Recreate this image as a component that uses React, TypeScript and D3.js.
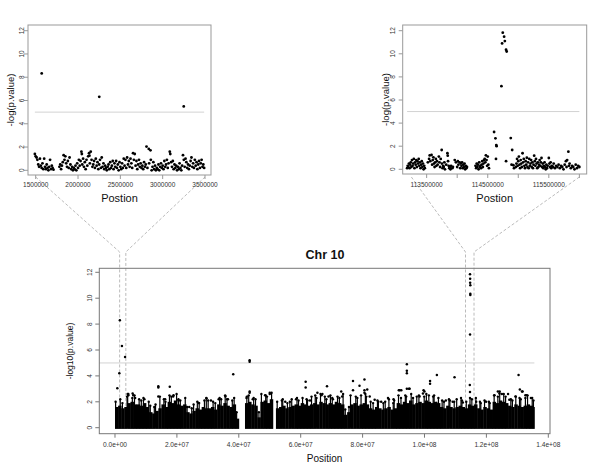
import React from "react";
import * as d3 from "d3";

type Pt = [number, number];
const FONT = "'Liberation Sans', Arial, Helvetica, sans-serif";

// ---------- data (positions in Mb, values = -log10 p) ----------
const leftZoomPoints: Pt[] = [
  [1.49,1.4],[1.50,1.2],[1.51,1.1],[1.52,0.9],[1.53,0.5],[1.54,0.3],[1.55,1.0],[1.56,0.4],[1.571,8.33],[1.57,0.2],[1.58,0.6],[1.59,0.1],
  [1.60,1.0],[1.61,0.3],[1.62,0.1],[1.63,0.5],[1.64,0.2],[1.65,0.0],[1.66,0.3],[1.67,0.9],[1.68,0.1],[1.69,0.4],[1.70,0.2],[1.71,0.05],
  [1.78,0.3],[1.79,0.5],[1.80,0.1],[1.81,0.4],[1.82,0.7],[1.83,1.3],[1.84,0.9],[1.85,1.2],[1.86,0.6],[1.87,0.3],[1.88,0.8],[1.89,0.2],[1.90,1.1],[1.91,0.5],[1.92,0.1],
  [1.93,0.3],[1.94,0.0],[1.95,0.2],[1.96,0.1],[1.97,0.4],[1.98,0.0],[1.99,0.6],[2.00,0.2],[2.01,0.9],[2.02,0.4],
  [2.03,0.8],[2.04,1.6],[2.045,1.4],[2.05,0.5],[2.06,1.0],[2.07,0.3],[2.08,0.7],[2.09,0.1],[2.10,0.9],[2.11,0.4],[2.12,1.2],[2.13,1.47],[2.135,1.26],[2.14,0.6],[2.15,1.6],
  [2.16,0.9],[2.17,0.3],[2.18,0.5],[2.19,0.8],[2.20,0.2],[2.21,1.0],[2.22,0.4],[2.23,0.7],[2.24,0.1],[2.251,6.32],[2.25,0.5],[2.26,0.9],[2.27,0.2],[2.28,1.1],[2.29,0.3],[2.30,0.6],
  [2.31,0.1],[2.32,0.4],[2.33,0.2],[2.34,0.0],[2.35,0.3],[2.36,0.5],[2.37,0.1],[2.38,0.7],[2.39,0.2],[2.40,0.4],[2.41,0.8],[2.42,0.1],[2.43,0.6],[2.44,0.3],[2.45,0.8],
  [2.46,0.2],[2.47,0.5],[2.48,0.0],[2.49,0.7],[2.50,0.3],[2.51,0.1],[2.52,0.6],[2.53,0.2],[2.54,1.0],[2.55,0.4],[2.56,0.9],[2.57,0.2],[2.58,1.1],[2.59,0.5],[2.60,0.8],
  [2.61,0.3],[2.62,1.0],[2.63,0.6],[2.64,0.2],[2.65,1.47],[2.66,0.9],[2.67,1.4],[2.68,0.4],[2.69,0.8],[2.70,0.1],[2.71,0.5],[2.72,0.9],[2.73,0.3],[2.74,0.6],[2.75,0.2],
  [2.76,0.4],[2.77,0.1],[2.78,0.7],[2.79,0.3],[2.80,0.5],[2.809,2.04],[2.82,0.2],[2.836,1.84],[2.84,0.6],[2.856,1.72],[2.86,0.9],[2.87,0.0],[2.88,0.3],[2.89,0.7],[2.90,0.1],
  [2.91,0.4],[2.92,0.0],[2.93,0.2],[2.94,0.1],[2.95,0.5],[2.96,0.0],[2.97,0.3],[2.98,0.6],[2.99,0.2],[3.00,0.4],[3.01,0.1],[3.02,0.8],[3.03,0.3],[3.04,0.5],[3.05,0.9],
  [3.06,0.2],[3.07,0.6],[3.084,1.6],[3.09,1.4],[3.10,0.7],[3.11,0.3],[3.12,0.8],[3.13,0.1],[3.14,0.5],[3.15,0.2],[3.16,0.4],[3.17,0.0],[3.18,0.3],[3.19,0.1],[3.20,0.6],
  [3.21,0.2],[3.22,0.0],[3.23,0.4],[3.24,1.3],[3.249,5.49],[3.25,0.9],[3.26,0.3],[3.27,1.0],[3.28,0.7],[3.29,0.2],[3.30,0.5],[3.31,0.1],[3.32,0.4],[3.33,0.8],[3.34,1.1],[3.35,0.3],
  [3.36,0.6],[3.37,0.2],[3.38,0.9],[3.39,0.4],[3.40,0.7],[3.41,0.1],[3.42,0.5],[3.43,0.8],[3.44,0.2],[3.45,0.6],[3.46,0.9],[3.47,0.3],[3.48,0.5],[3.49,0.2],
];

const rightZoomPoints: Pt[] = [
  [113.18,0.1],[113.19,0.3],[113.20,0.2],[113.21,0.5],[113.22,0.1],[113.23,0.4],[113.24,0.6],[113.25,0.2],[113.26,0.8],[113.27,0.3],[113.28,0.5],[113.29,0.9],[113.30,0.1],[113.31,0.6],[113.32,0.4],
  [113.33,0.8],[113.34,0.2],[113.35,0.7],[113.36,0.5],[113.37,0.9],[113.38,0.3],[113.39,0.6],[113.40,0.1],[113.41,0.4],[113.42,0.7],[113.43,0.2],[113.44,0.5],[113.45,0.0],[113.46,0.3],[113.47,0.1],
  [113.52,0.6],[113.54,0.9],[113.55,1.2],[113.56,0.7],[113.58,1.24],[113.59,0.4],[113.60,0.8],[113.61,1.04],[113.62,0.5],[113.63,0.2],[113.64,0.6],[113.65,0.9],[113.66,0.3],[113.67,0.7],[113.68,0.4],
  [113.70,1.1],[113.71,0.6],[113.72,0.2],[113.73,0.9],[113.746,1.67],[113.75,0.5],[113.76,0.1],[113.77,0.3],[113.78,0.2],[113.79,0.6],[113.80,0.0],[113.82,0.4],[113.84,1.39],[113.845,1.18],
  [113.85,0.7],[113.86,0.3],[113.87,0.1],[113.88,0.2],[113.89,0.0],[113.90,0.3],[113.92,0.1],[113.93,0.2],
  [113.96,0.8],[113.98,0.6],[114.00,0.2],[114.01,0.7],[114.02,0.4],[114.04,0.6],[114.05,0.1],[114.06,0.5],[114.07,0.3],[114.08,0.6],[114.09,0.1],[114.10,0.4],[114.11,0.2],[114.12,0.5],[114.13,0.0],[114.14,0.3],[114.15,0.1],[114.16,0.2],
  [114.30,0.3],[114.31,0.1],[114.32,0.5],[114.33,0.2],[114.34,0.4],[114.35,0.0],[114.36,0.6],[114.37,0.2],[114.38,0.3],[114.39,0.1],[114.40,0.4],[114.41,0.7],[114.42,0.2],[114.43,0.5],[114.44,0.8],
  [114.45,0.9],[114.46,0.6],[114.47,1.21],[114.48,0.8],[114.49,0.3],[114.50,1.1],[114.51,0.4],[114.52,0.1],
  [114.604,3.23],[114.626,2.68],[114.64,2.1],[114.645,2.0],[114.635,0.9],[114.735,10.9],[114.746,11.83],[114.724,7.2],[114.768,11.48],[114.78,11.1],[114.80,10.35],[114.81,10.2],[114.80,0.7],
  [114.877,2.7],[114.90,1.67],[114.89,0.4],[114.92,0.35],[114.93,0.1],
  [114.96,0.2],[114.97,0.5],[114.98,0.9],[114.99,0.3],[115.00,0.7],[115.01,1.1],[115.02,0.4],[115.03,0.1],[115.04,0.8],[115.05,0.5],[115.06,0.2],[115.07,1.39],[115.08,0.6],[115.09,0.9],[115.10,0.3],
  [115.11,0.1],[115.12,0.7],[115.13,0.4],[115.14,1.0],[115.15,0.2],[115.16,0.6],[115.17,0.1],[115.18,0.9],[115.19,0.3],[115.20,0.5],[115.21,0.8],[115.22,0.2],[115.23,0.6],[115.24,0.1],[115.25,0.4],
  [115.26,1.18],[115.27,0.7],[115.28,0.3],[115.29,0.9],[115.30,0.5],[115.31,0.1],[115.32,0.6],[115.33,0.2],[115.34,0.4],[115.35,0.8],[115.36,0.3],[115.37,0.6],[115.38,0.98],[115.39,0.2],[115.40,0.5],
  [115.41,0.1],[115.42,0.3],[115.43,0.6],[115.44,0.2],[115.45,0.0],[115.46,0.4],[115.47,0.1],[115.48,0.3],[115.50,0.98],[115.51,0.5],[115.52,0.2],[115.53,0.6],[115.54,0.1],[115.55,0.3],[115.57,0.2],
  [115.58,0.5],[115.60,0.1],[115.62,0.3],[115.64,0.2],[115.66,0.4],[115.68,0.1],[115.70,0.3],[115.72,0.2],[115.74,0.0],[115.76,0.4],[115.78,0.7],[115.79,0.2],[115.80,0.8],[115.82,1.53],[115.83,0.3],
  [115.84,0.5],[115.86,0.1],[115.88,0.3],[115.90,0.2],[115.92,0.0],[115.94,0.4],[115.96,0.1],[115.98,0.3],[116.00,0.2],
];

// dense band of the whole chromosome: solid upper edge per 1-Mb bin (index = Mb)
const chrBandTop: number[] = [
  1.6,1.7,1.5,1.6,1.9,2.0,1.8,1.8,1.7,1.9,1.6,1.2,1.1,1.3,1.5,1.8,1.6,2.0,1.9,2.1,
  1.8,1.7,1.8,1.2,1.1,1.3,1.5,1.4,1.6,1.5,1.5,1.6,1.4,1.8,1.7,1.9,1.7,1.6,1.8,0.7,
  0,0,1.9,2.0,1.8,1.7,0.8,2.0,2.1,1.9,2.2,0,1.5,1.6,1.7,1.5,1.6,1.7,1.8,1.7,
  1.9,1.8,1.7,1.8,1.9,1.8,2.0,1.9,1.8,1.9,1.8,2.0,1.9,1.8,1.0,1.2,1.8,1.9,1.7,1.8,
  1.9,1.8,1.5,1.4,1.6,1.5,1.4,1.5,1.6,1.4,1.5,1.9,1.8,2.0,1.9,2.1,1.8,1.9,2.0,1.9,
  2.1,2.0,1.9,2.0,1.9,1.6,1.5,1.7,1.6,1.5,1.6,1.7,1.6,1.5,1.8,1.7,1.8,1.5,1.4,1.6,
  1.5,1.4,2.0,1.9,2.1,2.0,1.9,1.7,1.6,1.8,1.7,1.6,1.7,1.8,1.7,1.6,
];
// thin streak of stacked points rising above the solid band in each bin
const chrBandPeak: number[] = [
  2.0,2.2,1.9,2.4,2.6,2.3,2.5,2.2,2.1,2.3,2.0,1.7,1.6,1.8,2.4,2.2,2.0,2.5,2.4,2.6,
  2.2,2.1,2.3,1.6,1.5,1.8,2.0,1.9,2.1,2.3,2.1,2.0,1.9,2.3,2.2,2.5,2.2,2.1,2.3,1.2,
  0,0,2.4,2.5,2.3,2.2,1.2,2.6,2.5,2.4,2.7,0,2.0,2.1,2.2,1.9,2.0,2.2,2.3,2.1,
  2.3,2.2,2.1,2.4,2.5,2.3,2.6,2.4,2.2,2.5,2.3,2.4,2.3,2.6,1.4,1.6,2.5,2.4,2.3,2.5,
  2.6,2.4,2.0,1.9,2.1,2.0,1.9,2.0,2.2,1.9,2.1,2.5,2.3,2.5,2.4,2.6,2.3,2.4,2.5,2.4,
  2.6,2.5,2.4,2.5,2.3,2.1,2.0,2.2,2.1,2.0,2.2,2.3,2.1,2.0,2.3,2.2,2.3,2.0,1.9,2.1,
  2.0,1.9,2.5,2.4,2.8,2.6,2.4,2.2,2.1,2.4,2.3,2.2,2.3,2.5,2.3,2.1,
];
// where that streak sits inside its bin (Mb from bin start)
const chrPeakOffset: number[] = [
  0.2,0.7,0.4,0.9,0.1,0.6,0.3,0.8,0.5,0.2,0.9,0.4,0.7,0.1,0.5,0.8,0.3,0.6,0.2,0.9,
  0.5,0.1,0.7,0.3,0.8,0.4,0.6,0.2,0.9,0.5,0.1,0.7,0.4,0.8,0.3,0.6,0.2,0.9,0.5,0.3,
  0.5,0.5,0.6,0.2,0.8,0.4,0.5,0.3,0.7,0.1,0.6,0.5,0.4,0.9,0.2,0.7,0.5,0.1,0.8,0.3,
  0.6,0.9,0.2,0.5,0.7,0.1,0.4,0.8,0.3,0.6,0.2,0.9,0.5,0.7,0.4,0.6,0.1,0.8,0.3,0.5,
  0.9,0.2,0.6,0.4,0.8,0.1,0.7,0.3,0.5,0.9,0.2,0.6,0.4,0.8,0.1,0.7,0.3,0.5,0.2,0.9,
  0.6,0.4,0.8,0.1,0.5,0.7,0.3,0.9,0.2,0.6,0.4,0.8,0.1,0.5,0.7,0.3,0.6,0.9,0.2,0.4,
  0.8,0.1,0.5,0.7,0.3,0.6,0.2,0.9,0.4,0.5,0.7,0.1,0.6,0.3,0.8,0.2,
];
const chrEnd = 135.5;

const chrPoints: Pt[] = [
  [0.75,3.04],[1.4,4.2],[1.57,8.3],[2.25,6.3],[3.25,5.45],[4.3,2.5],[4.3,2.6],[5.7,2.65],[5.9,2.5],[14,3.2],[14,3.1],[14,2.4],
  [17.7,3.17],[18.8,2.4],[18.9,2.5],[29.6,2.26],[31,2.1],[35.7,2.4],[36.5,2.2],[38.2,4.12],[43.5,5.2],[43.5,5.1],[43.5,2.8],
  [43.5,2.7],[50,2.7],[50,2.6],[61.6,3.55],[61.6,3.1],[65.4,2.7],[67,2.6],[68.5,3.2],[69,2.4],[76.9,3.6],[76.9,2.9],[79,3.24],
  [80.6,3.73],[80.6,2.9],[80.6,2.7],[81.5,2.95],[92,2.9],[92.5,2.9],[94.3,4.9],[94.3,4.4],[94.3,4.2],[94.3,3.0],[95,3.0],
  [99.7,2.9],[101.8,3.6],[101.8,3.4],[104,4.07],[109.7,3.9],[114.7,11.84],[114.75,11.5],[114.75,11.2],[114.8,11.0],
  [114.8,10.35],[114.8,10.25],[114.72,7.2],[114.65,3.3],[114.7,2.75],[130.4,4.07],[130.8,2.95],[131.5,2.8],[125,2.6],
  [127,2.6],[133,2.5],[66.7,2.5],[70.4,2.2],[73.1,2.8],[73.4,2.4],[82.3,2.4],[83.9,2.15],[86,2.0],[88.2,2.3],[90,2.2],
  [91.7,2.9],[95.2,3.0],[98.4,2.4],[99.5,2.65],[100,2.8],[103.8,1.9],[106.9,2.1],[109.1,2.0],[112.4,1.95],[116.7,2.0],
  [119.9,2.0],[122.6,2.5],[123.7,2.8],[124.2,2.65],[127.4,2.15],[129.4,2.4],[131.7,2.8],[132.6,2.5],[134.4,2.3],
  [6.5,2.3],[9.5,2.2],[16.2,2.2],[20.5,2.1],[24,1.6],[27,1.9],[33.5,2.2],[42.5,2.3],[44.5,2.2],[48.5,2.5],[55,2.0],[58.5,2.2],[63,2.1],
];

const yTicks = [0, 2, 4, 6, 8, 10, 12];
const leftTicks = [1.5, 2.0, 2.5, 3.0, 3.5];
const leftTickLabels = ["1500000", "2000000", "2500000", "3000000", "3500000"];
const rightTicks = [113.5, 114.0, 114.5, 115.0, 115.5, 116.0];
const rightTickLabels = ["113500000", "", "114500000", "", "115500000", ""];
const chrTicks = [0, 20, 40, 60, 80, 100, 120, 140];
const chrTickLabels = ["0.0e+00", "2.0e+07", "4.0e+07", "6.0e+07", "8.0e+07", "1.0e+08", "1.2e+08", "1.4e+08"];
const threshold = 5;
const leftRegion: [number, number] = [1.5, 3.5];
const rightRegion: [number, number] = [113.25, 116.0];

// ---------- scales ----------
const xL = d3.scaleLinear().domain([1.409, 3.571]).range([28, 211]);
const yL = d3.scaleLinear().domain([0, 12]).range([170.3, 30.7]);
const xR = d3.scaleLinear().domain([113.108, 116.12]).range([402.7, 586.7]);
const yR = d3.scaleLinear().domain([0, 12]).range([169.3, 30.7]);
const xB = d3.scaleLinear().domain([-5.07, 140.55]).range([99.3, 550]);
const yB = d3.scaleLinear().domain([0, 12]).range([427.7, 272.3]);

type PanelProps = {
  x: d3.ScaleLinear<number, number>;
  y: d3.ScaleLinear<number, number>;
  box: [number, number, number, number];
  xTicks: number[];
  xLabels: string[];
  tickFont: number;
  boxColor: string;
  yLabel: string;
  yLabelX: number;
  yLabelSize: number;
  yTickLabelX: number;
  xLabelY: number;
  xTitle: string;
  xTitleY: number;
  xTitleSize: number;
};

function Frame(p: PanelProps) {
  const [x0, y0, x1, y1] = p.box;
  const yMid = (y0 + y1) / 2;
  const xMid = (x0 + x1) / 2;
  return (
    <g fontFamily={FONT}>
      <rect x={x0} y={y0} width={x1 - x0} height={y1 - y0} fill="none" stroke={p.boxColor} strokeWidth={1} />
      {yTicks.map((t) => (
        <g key={"y" + t}>
          <line x1={x0} x2={x0 - 4} y1={p.y(t)} y2={p.y(t)} stroke={p.boxColor} />
          <text
            transform={`translate(${p.yTickLabelX},${p.y(t)}) rotate(-90)`}
            textAnchor="middle"
            dominantBaseline="central"
            fontSize={p.tickFont}
            fill="#333"
          >
            {t}
          </text>
        </g>
      ))}
      {p.xTicks.map((t, i) => (
        <g key={"x" + t}>
          <line x1={p.x(t)} x2={p.x(t)} y1={y1} y2={y1 + 4} stroke={p.boxColor} />
          {p.xLabels[i] && (
            <text x={p.x(t)} y={p.xLabelY} textAnchor="middle" dominantBaseline="central" fontSize={p.tickFont} fill="#333">
              {p.xLabels[i]}
            </text>
          )}
        </g>
      ))}
      <text
        transform={`translate(${p.yLabelX},${yMid}) rotate(-90)`}
        textAnchor="middle"
        dominantBaseline="central"
        fontSize={p.yLabelSize}
        fill="#111"
      >
        {p.yLabel}
      </text>
      <text x={xMid} y={p.xTitleY} textAnchor="middle" dominantBaseline="central" fontSize={p.xTitleSize} fill="#111">
        {p.xTitle}
      </text>
    </g>
  );
}

export default function App() {
  const connectors: { px: number; bx: number }[] = [
    { px: xL(leftRegion[0]), bx: xB(leftRegion[0]) },
    { px: xL(leftRegion[1]), bx: xB(leftRegion[1]) },
    { px: xR(rightRegion[0]), bx: xB(rightRegion[0]) },
    { px: xR(rightRegion[1]), bx: xB(rightRegion[1]) },
  ];
  const lExt = d3.extent(leftZoomPoints, (d) => d[0]) as [number, number];
  const rExt = d3.extent(rightZoomPoints, (d) => d[0]) as [number, number];

  return (
    <svg width={600} height={469} style={{ position: "absolute", left: 0, top: 0, background: "#fff" }}>
      <rect width={600} height={469} fill="#fff" />

      {/* connectors */}
      {connectors.map((c, i) => (
        <polyline
          key={i}
          points={`${c.px},177 ${c.bx},252 ${c.bx},${yB(0)}`}
          fill="none"
          stroke="#aaa"
          strokeWidth={0.8}
          strokeDasharray="3,2"
        />
      ))}

      {/* top-left zoom */}
      <line x1={xL(lExt[0])} x2={xL(lExt[1])} y1={yL(threshold)} y2={yL(threshold)} stroke="#d2d2d2" />
      {leftZoomPoints.map((d, i) => (
        <circle key={i} cx={xL(d[0])} cy={yL(d[1])} r={1.4} fill="#000" />
      ))}
      <Frame
        x={xL} y={yL} box={[28, 25, 211, 175]} xTicks={leftTicks} xLabels={leftTickLabels}
        tickFont={6.5} boxColor="#999" yLabel="-log(p.value)" yLabelX={10} yLabelSize={9.5}
        yTickLabelX={21.5} xLabelY={184.5} xTitle="Postion" xTitleY={197.5} xTitleSize={11}
      />

      {/* top-right zoom */}
      <line x1={xR(rExt[0])} x2={xR(rExt[1])} y1={yR(threshold)} y2={yR(threshold)} stroke="#d2d2d2" />
      {rightZoomPoints.map((d, i) => (
        <circle key={i} cx={xR(d[0])} cy={yR(d[1])} r={1.4} fill="#000" />
      ))}
      <Frame
        x={xR} y={yR} box={[402.7, 25, 586.7, 174]} xTicks={rightTicks} xLabels={rightTickLabels}
        tickFont={6.5} boxColor="#999" yLabel="-log(p.value)" yLabelX={385} yLabelSize={9.5}
        yTickLabelX={392} xLabelY={184.5} xTitle="Postion" xTitleY={197.5} xTitleSize={11}
      />

      {/* bottom: whole chromosome */}
      <text x={325} y={255} textAnchor="middle" dominantBaseline="central" fontFamily={FONT} fontWeight="bold" fontSize={12.5} fill="#111">
        Chr 10
      </text>
      <line x1={99.3} x2={xB(chrEnd)} y1={yB(threshold)} y2={yB(threshold)} stroke="#d2d2d2" />
      {chrBandTop.map((t, i) =>
        t > 0 ? (
          <rect
            key={"b" + i}
            x={xB(i)}
            y={yB(t)}
            width={xB(Math.min(i + 1, chrEnd)) - xB(i) + 0.4}
            height={yB(0) + 1.2 - yB(t)}
            fill="#000"
          />
        ) : null
      )}
      {chrBandPeak.map((t, i) =>
        t > 0 ? (
          <g key={"s" + i}>
            <rect x={xB(i + chrPeakOffset[i]) - 0.6} y={yB(t)} width={1.2} height={yB(0) - yB(t)} fill="#000" />
            <circle cx={xB(i + chrPeakOffset[i])} cy={yB(t)} r={1.2} fill="#000" />
          </g>
        ) : null
      )}
      {chrPoints.map((d, i) => (
        <circle key={"p" + i} cx={xB(d[0])} cy={yB(d[1])} r={1.25} fill="#000" />
      ))}
      <Frame
        x={xB} y={yB} box={[99.3, 268.3, 550, 433.7]} xTicks={chrTicks} xLabels={chrTickLabels}
        tickFont={6.6} boxColor="#777" yLabel="-log10(p.value)" yLabelX={70} yLabelSize={8.5}
        yTickLabelX={89} xLabelY={444} xTitle="Position" xTitleY={458} xTitleSize={10}
      />
    </svg>
  );
}
